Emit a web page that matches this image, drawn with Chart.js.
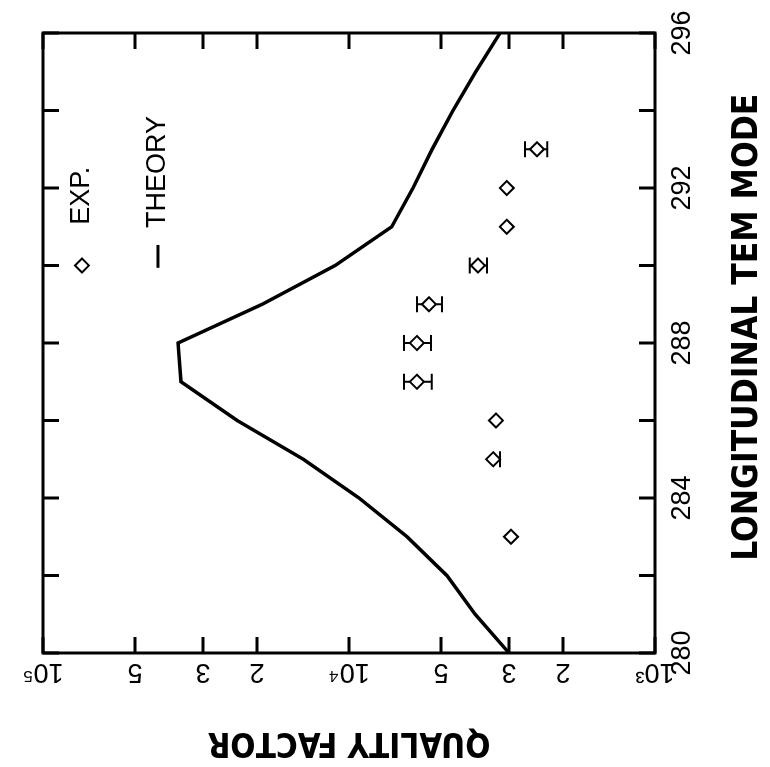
<!DOCTYPE html>
<html>
<head>
<meta charset="utf-8">
<title>Quality factor vs longitudinal TEM mode</title>
<script src="https://cdn.jsdelivr.net/npm/chart.js@4.4.1/dist/chart.umd.min.js"></script>
<style>
html, body{
    margin:0;
    padding:0;
    background:#fff;
    overflow:hidden;
}
/* the plot is drawn upright, then turned a quarter turn counter-clockwise */
#wrap{
    position:absolute;
    left:0;
    top:0;
    width:767px;
    height:770px;
    transform-origin:0 0;
    transform:translateY(767px) rotate(-90deg);
}
</style>
</head>
<body>
<div id="wrap"><canvas id="qChart" width="767" height="770"></canvas></div>
<script>

// theory curve
const theoryModes = [280,281,282,283,284,285,286,287,288,289,290,291,292,293,294,295,296];
const theoryQ = [3000,3870,4790,6460,9270,14100,23200,35400,36200,19200,11100,7250,6180,5350,4570,3850,3210];

// measured points (null = no error bar on that side)
const expModes = [283,285,286,287,288,289,290,291,292,293];
const expQ = [2955,3380,3310,6000,6000,5480,3790,3050,3050,2430];
const expLow = [null,3210,null,5370,5400,4970,3540,null,null,2250];
const expHigh = [null,null,null,6610,6610,6000,4030,null,null,2660];

// axes
const modeTicks = [280,282,284,286,288,290,292,294,296];
const qTicks = [1000,2000,3000,5000,10000,20000,30000,50000,100000];
const qTickLabels = ["10³","2","3","5","10⁴","2","3","5","10⁵"];

const tickFont = {family:'"Liberation Sans", Arial, sans-serif', size:27};
const titleFamily = '"Liberation Sans Narrow", "DejaVu Sans Condensed", sans-serif';

function toPoints(xs, ys){
    let pts = [];
    xs.forEach((x, i) => {
        pts.push({x:x, y:ys[i]});
    });
    return pts;
}

const framePlugin = {
    id:"frame",

    beforeDatasetsDraw(chart){
        const ctx = chart.ctx;
        const xs = chart.scales.x;
        const ys = chart.scales.y;
        ctx.save();
        ctx.strokeStyle = "#000";
        ctx.lineWidth = 2;
        expModes.forEach((m, i) => {
            let px = xs.getPixelForValue(m);
            let pc = ys.getPixelForValue(expQ[i]);
            [expLow[i], expHigh[i]].forEach(v => {
                if(v === null) return;
                let pv = ys.getPixelForValue(v);
                ctx.beginPath();
                ctx.moveTo(px, pc);
                ctx.lineTo(px, pv);
                ctx.moveTo(px - 8, pv);
                ctx.lineTo(px + 8, pv);
                ctx.stroke();
            });
        });
        ctx.restore();
    },

    afterDatasetsDraw(chart){
        const ctx = chart.ctx;
        const a = chart.chartArea;
        const xs = chart.scales.x;
        const ys = chart.scales.y;
        const tick = 16;

        ctx.save();
        ctx.strokeStyle = "#000";
        ctx.fillStyle = "#000";
        ctx.lineWidth = 3;
        ctx.lineCap = "butt";

        ctx.strokeRect(a.left, a.top, a.right - a.left, a.bottom - a.top);

        // inward tick marks on all four sides
        ctx.beginPath();
        modeTicks.forEach(v => {
            let p = xs.getPixelForValue(v);
            ctx.moveTo(p, a.bottom);
            ctx.lineTo(p, a.bottom - tick);
            ctx.moveTo(p, a.top);
            ctx.lineTo(p, a.top + tick);
        });
        qTicks.forEach(v => {
            let p = ys.getPixelForValue(v);
            ctx.moveTo(a.left, p);
            ctx.lineTo(a.left + tick, p);
            ctx.moveTo(a.right, p);
            ctx.lineTo(a.right - tick, p);
        });
        ctx.stroke();

        // legend inside the plot
        ctx.font = tickFont.size + "px " + tickFont.family;
        ctx.textBaseline = "middle";
        ctx.textAlign = "left";

        let ey = ys.getPixelForValue(74600);
        ctx.lineWidth = 2;
        ctx.fillStyle = "#fff";
        Chart.helpers.drawPoint(ctx, {pointStyle:"rectRot", radius:7, borderWidth:2, rotation:0}, xs.getPixelForValue(290), ey);
        ctx.fillStyle = "#000";
        ctx.fillText("EXP.", xs.getPixelForValue(291.05), ey);

        let ty = ys.getPixelForValue(42100);
        ctx.lineWidth = 3;
        ctx.beginPath();
        ctx.moveTo(xs.getPixelForValue(289.94), ty);
        ctx.lineTo(xs.getPixelForValue(290.53), ty);
        ctx.stroke();
        ctx.fillText("THEORY", xs.getPixelForValue(290.97), ty);

        ctx.restore();
    }
};

const ctx = document.getElementById("qChart");

new Chart(ctx, {
    type:"line",
    data:{
        datasets:[
            {
                label:"THEORY",
                data:toPoints(theoryModes, theoryQ),
                borderColor:"#000",
                borderWidth:3.5,
                borderJoinStyle:"miter",
                pointRadius:0,
                tension:0,
                fill:false
            },
            {
                label:"EXP.",
                data:toPoints(expModes, expQ),
                showLine:false,
                pointStyle:"rectRot",
                pointRadius:7,
                pointBorderWidth:2,
                pointBorderColor:"#000",
                pointBackgroundColor:"#fff"
            }
        ]
    },
    options:{
        responsive:false,
        devicePixelRatio:1,
        animation:false,
        layout:{
            padding:{left:0, right:33, top:43, bottom:0}
        },
        plugins:{
            legend:{display:false},
            tooltip:{enabled:false}
        },
        scales:{
            x:{
                type:"linear",
                min:280,
                max:296,
                afterFit:s => { s.height = 115; },
                afterBuildTicks:s => {
                    s.ticks = modeTicks.map(v => ({value:v}));
                },
                grid:{display:false},
                border:{display:false},
                ticks:{
                    autoSkip:false,
                    maxRotation:0,
                    padding:3,
                    color:"#000",
                    font:tickFont,
                    callback:v => (v % 4 === 0 ? String(v) : "")
                },
                title:{
                    display:true,
                    // leading em space nudges the centred title toward 296, as in the original
                    text:"\u2003LONGITUDINAL TEM MODE",
                    color:"#000",
                    font:{family:titleFamily, size:35, weight:"bold"},
                    padding:{top:0, bottom:1}
                }
            },
            y:{
                type:"logarithmic",
                min:1000,
                max:100000,
                afterFit:s => { s.width = 114; },
                afterBuildTicks:s => {
                    s.ticks = qTicks.map(v => ({value:v}));
                },
                grid:{display:false},
                border:{display:false},
                ticks:{
                    autoSkip:false,
                    minRotation:90,
                    maxRotation:90,
                    crossAlign:"center",
                    padding:-10,
                    color:"#000",
                    font:tickFont,
                    callback:(v, i) => qTickLabels[i]
                },
                title:{
                    display:true,
                    text:"QUALITY FACTOR",
                    color:"#000",
                    font:{family:titleFamily, size:33, weight:"bold"},
                    padding:{top:6, bottom:0}
                }
            }
        }
    },
    plugins:[framePlugin]
});

</script>
</body>
</html>
